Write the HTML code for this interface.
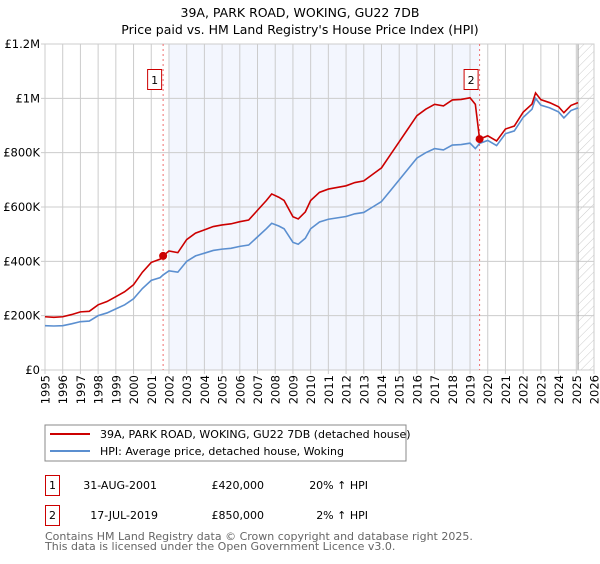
<!DOCTYPE html>
<html><head><meta charset="utf-8"><style>
body{margin:0;background:#fff;font-family:"DejaVu Sans","Liberation Sans",sans-serif}
svg text{font-family:"DejaVu Sans","Liberation Sans",sans-serif}
</style></head><body>
<svg id="chart" width="600" height="560" xmlns="http://www.w3.org/2000/svg">
<defs><pattern id="hatch" width="6" height="6" patternUnits="userSpaceOnUse" patternTransform="rotate(45)"><line x1="0" y1="0" x2="0" y2="6" stroke="#ccc" stroke-width="1"/></pattern></defs>
<text x="300" y="17" text-anchor="middle" font-size="12.5">39A, PARK ROAD, WOKING, GU22 7DB</text>
<text x="300" y="34" text-anchor="middle" font-size="12.5">Price paid vs. HM Land Registry's House Price Index (HPI)</text>
<g id="plot"></g>
<g>
<rect x="45" y="425" width="361" height="36" fill="#fff" stroke="#888"/>
<line x1="50" y1="434" x2="90" y2="434" stroke="#cc0000" stroke-width="2"/>
<text x="100" y="438" font-size="11">39A, PARK ROAD, WOKING, GU22 7DB (detached house)</text>
<line x1="50" y1="451" x2="90" y2="451" stroke="#5b8fd0" stroke-width="2"/>
<text x="100" y="455" font-size="11">HPI: Average price, detached house, Woking</text>
</g>
<g font-size="11">
<rect x="45.5" y="475.5" width="14" height="20" fill="#fff" stroke="#cc0000"/>
<text x="52.5" y="489" text-anchor="middle">1</text>
<text x="157" y="489" text-anchor="end">31-AUG-2001</text>
<text x="264" y="489" text-anchor="end">£420,000</text>
<text x="368" y="489" text-anchor="end">20% ↑ HPI</text>
<rect x="45.5" y="505.5" width="14" height="20" fill="#fff" stroke="#cc0000"/>
<text x="52.5" y="519" text-anchor="middle">2</text>
<text x="158" y="519" text-anchor="end">17-JUL-2019</text>
<text x="264" y="519" text-anchor="end">£850,000</text>
<text x="368" y="519" text-anchor="end">2% ↑ HPI</text>
</g>
<g font-size="11" fill="#666">
<text x="45" y="540">Contains HM Land Registry data © Crown copyright and database right 2025.</text>
<text x="45" y="550">This data is licensed under the Open Government Licence v3.0.</text>
</g>
</svg>
<script>
const yTickValues=[0,200000,400000,600000,800000,1000000,1200000];
const yTickLabels=["£0","£200K","£400K","£600K","£800K","£1M","£1.2M"];
const xTickYears=[1995,1996,1997,1998,1999,2000,2001,2002,2003,2004,2005,2006,2007,2008,2009,2010,2011,2012,2013,2014,2015,2016,2017,2018,2019,2020,2021,2022,2023,2024,2025,2026];
const hpiYears=[1995,1995.5,1996,1996.5,1997,1997.5,1998,1998.5,1999,1999.5,2000,2000.5,2001,2001.5,2001.67,2002,2002.5,2003,2003.5,2004,2004.5,2005,2005.5,2006,2006.5,2007,2007.5,2007.8,2008.2,2008.5,2009,2009.3,2009.7,2010,2010.5,2011,2011.5,2012,2012.5,2013,2013.5,2014,2014.5,2015,2015.5,2016,2016.5,2017,2017.5,2018,2018.5,2019,2019.3,2019.54,2020,2020.5,2021,2021.5,2022,2022.5,2022.7,2023,2023.5,2024,2024.3,2024.7,2025.1];
const hpiValues=[163,162,163,170,178,180,200,210,225,240,262,300,330,340,350,365,360,400,420,430,440,445,448,455,460,490,520,540,530,520,470,463,485,520,545,555,560,565,575,580,600,620,660,700,740,780,800,815,810,828,830,835,815,834,845,826,870,880,930,960,1000,975,965,950,928,955,965];
const priceValues=[196,194,196,204,214,216,240,252,270,288,314,360,396,408,420,438,432,480,504,516,528,534,538,546,552,588,624,648,636,624,564,556,582,624,654,666,672,678,690,696,720,744,792,840,888,936,960,978,972,994,996,1002,978,850,862,843,887,898,949,979,1020,995,984,969,947,974,984];
const sales=[{n:"1",year:2001.67,value:420000},{n:"2",year:2019.54,value:850000}];
const NS="http://www.w3.org/2000/svg";
const X0=45,X1=594,Y0=370,Y1=44;
const xs=y=>X0+(y-1995)/(2026-1995)*(X1-X0);
const ys=v=>Y0-v/1200000*(Y0-Y1);
const g=document.getElementById('plot');
function mk(t,a){const e=document.createElementNS(NS,t);for(const k in a)e.setAttribute(k,a[k]);g.appendChild(e);return e;}
let e;
e=mk('rect',{x:xs(2002),y:Y1,width:xs(2019.54)-xs(2002),height:Y0-Y1,fill:'#f3f6fe'});


e=mk('rect',{x:xs(2025.1),y:Y1,width:X1-xs(2025.1),height:Y0-Y1,fill:'url(#hatch)'});


xTickYears.forEach(y=>{
 e=mk('line',{x1:xs(y),x2:xs(y),y1:Y1,y2:Y0+4,stroke:'#ccc'});
 
 
 const tx=xs(y)+4.5,ty=375;
 e=mk('text',{x:tx,y:ty,'text-anchor':'end','font-size':'11.5',transform:'rotate(-90 '+tx+' '+ty+')'});e.textContent=y;
 
 
});
yTickValues.forEach((v,i)=>{
 e=mk('line',{x1:X0-4,x2:X1,y1:ys(v),y2:ys(v),stroke:'#ccc'});
 
 
 e=mk('text',{x:40,y:ys(v)+4,'text-anchor':'end','font-size':'11.5'});e.textContent=yTickLabels[i];
 
 
});
e=mk('line',{x1:xs(2025.1),x2:xs(2025.1),y1:Y1,y2:Y0,stroke:'#999'});


e=mk('rect',{x:X0,y:Y1,width:X1-X0,height:Y0-Y1,fill:'none',stroke:'#ccc'});


sales.forEach(s=>{
 e=mk('line',{x1:xs(s.year),x2:xs(s.year),y1:Y1,y2:Y0,stroke:'#f07070','stroke-dasharray':'2,3'});
 
 
});
e=mk('polyline',{points:hpiYears.map((y,i)=>xs(y)+','+ys(hpiValues[i]*1000)).join(' '),fill:'none',stroke:'#5b8fd0','stroke-width':1.6});


e=mk('polyline',{points:hpiYears.map((y,i)=>xs(y)+','+ys(priceValues[i]*1000)).join(' '),fill:'none',stroke:'#cc0000','stroke-width':1.6});


sales.forEach(s=>{
 e=mk('circle',{cx:xs(s.year),cy:ys(s.value),r:4,fill:'#cc0000'});
 
 
 e=mk('rect',{x:xs(s.year)-15.5,y:69.5,width:14,height:20,fill:'#fff',stroke:'#cc0000'});
 
 
 e=mk('text',{x:xs(s.year)-8.5,y:84,'text-anchor':'middle','font-size':'11'});e.textContent=s.n;
 
 
});
</script>
</body></html>
